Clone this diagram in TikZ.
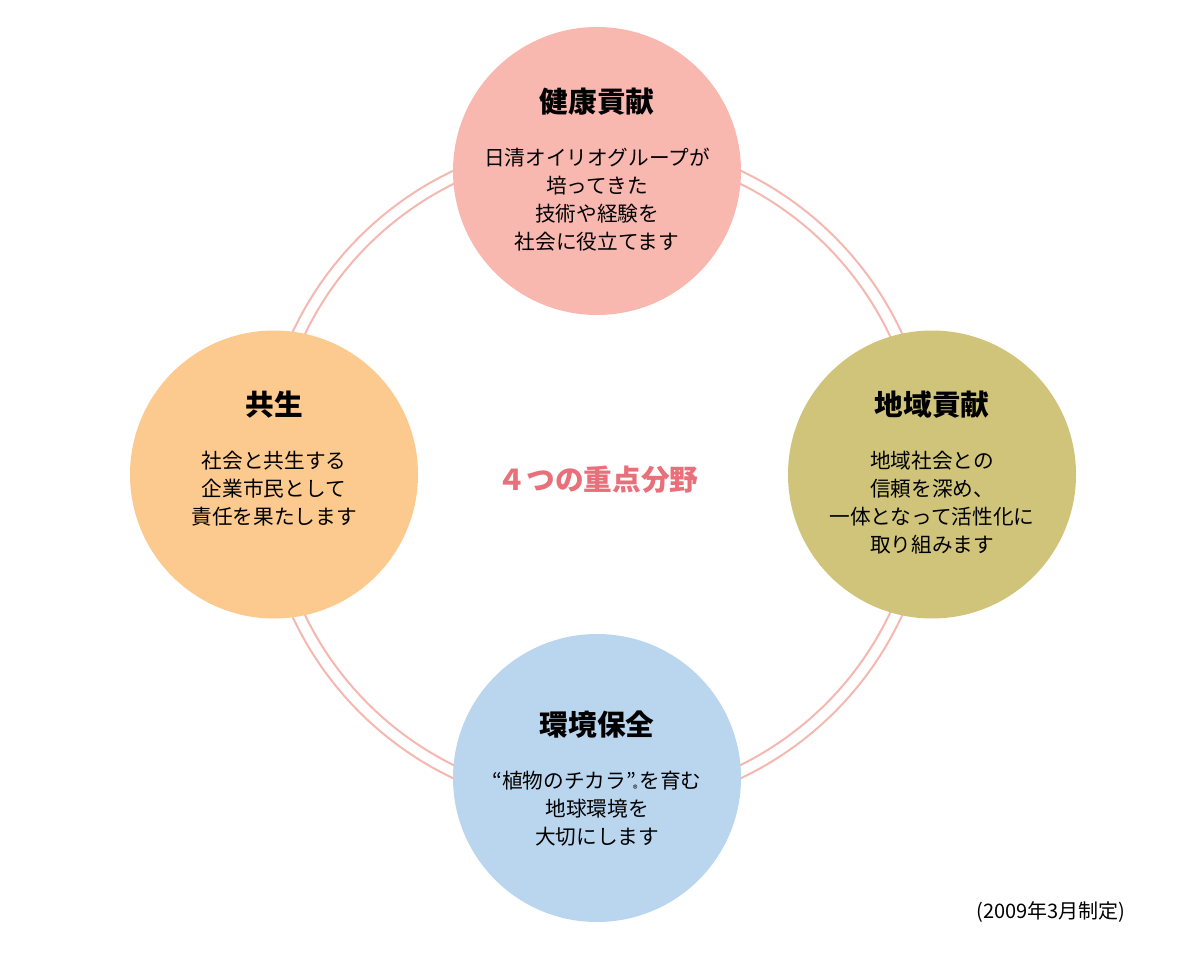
\documentclass[tikz,border=0pt]{standalone}
\usepackage{fontspec}
\setmainfont{Noto Sans CJK JP}
\usepackage{tikz}
\usetikzlibrary{positioning}
\definecolor{ringpink}{RGB}{245,184,176}
\definecolor{kenkou}{RGB}{248,184,176}
\definecolor{kyousei}{RGB}{252,201,142}
\definecolor{chiiki}{RGB}{207,196,122}
\definecolor{kankyou}{RGB}{186,214,238}
\definecolor{midashi}{RGB}{232,112,122}

\begin{document}
\begin{tikzpicture}[x=0.75pt, y=-0.75pt,
  maru/.style={circle, minimum size=216pt, inner sep=0pt},
  midashi/.style={font=\fontsize{21.5pt}{24pt}\selectfont\bfseries},
  honbun/.style={align=center, font=\fontsize{15.5pt}{21pt}\selectfont}]
\useasboundingbox (0,0) rectangle (1203,955);
% ring behind the four circles
\draw[ringpink, line width=1.5pt] (597,474.5) circle[radius=336*0.75pt];
\draw[ringpink, line width=1.5pt] (597,474.5) circle[radius=324*0.75pt];
\node[maru, fill=kenkou]  (kenkou)  at (597,171)   {};
\node[maru, fill=kyousei] (kyousei) at (274,474.5) {};
\node[maru, fill=chiiki]  (chiiki)  at (932,474.5) {};
\node[maru, fill=kankyou] (kankyou) at (597,778)   {};
\node[midashi] (t1) at (597,102) {健康貢献};
\node[honbun]  (b1) at (597,200) {日清オイリオグループが\\培ってきた\\技術や経験を\\社会に役立てます};
\node[midashi] (t2) at (274,405) {共生};
\node[honbun]  (b2) at (274,489) {社会と共生する\\企業市民として\\責任を果たします};
\node[midashi] (t3) at (932,405) {地域貢献};
\node[honbun]  (b3) at (932,503) {地域社会との\\信頼を深め、\\一体となって活性化に\\取り組みます};
\node[midashi] (t4) at (597,725) {環境保全};
\node[honbun]  (b4) at (597,809) {“植物のチカラ”\kern-0.15em\raisebox{-0.35ex}{\fontsize{7pt}{7pt}\selectfont ®}\kern0.1em を育む\\地球環境を\\大切にします};
\node[font=\fontsize{21.5pt}{24pt}\selectfont\bfseries, text=midashi] (center) at (598,480) {４つの重点分野};
\node[font=\fontsize{15pt}{17pt}\selectfont, anchor=east] (seitei) at (1130,912) {(2009年3月制定)};
\end{tikzpicture}
\end{document}
